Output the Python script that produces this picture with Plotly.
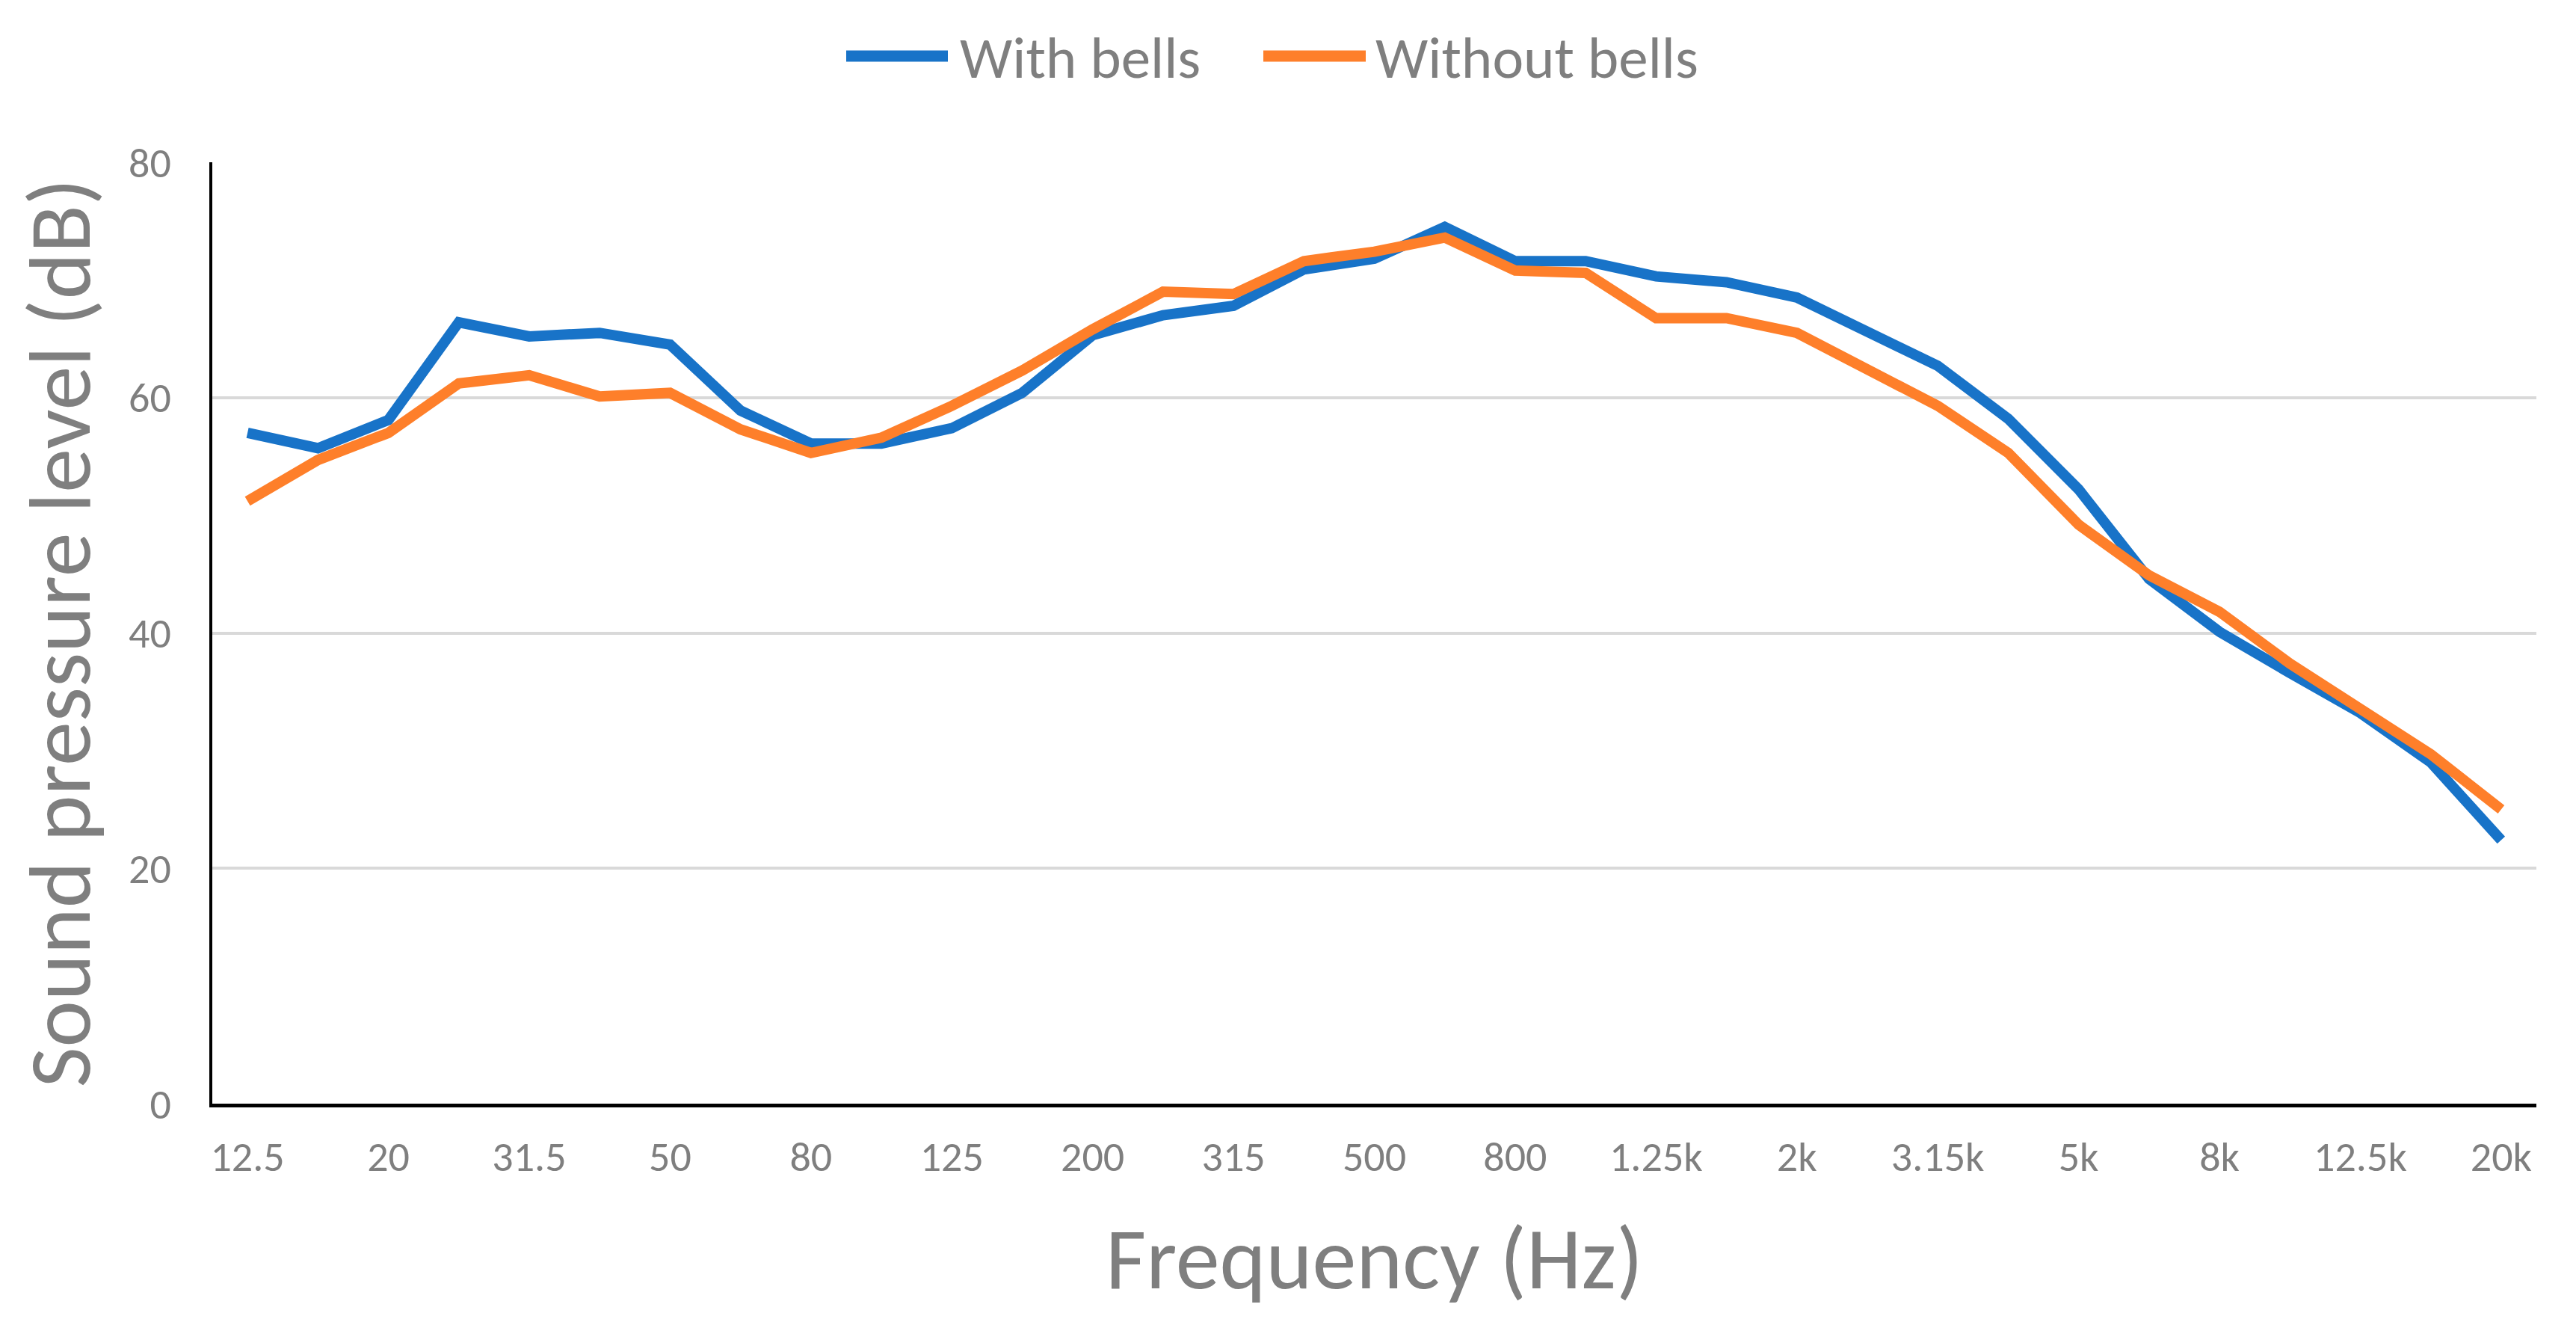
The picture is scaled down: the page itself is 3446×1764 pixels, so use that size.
import plotly.graph_objects as go

categories = ["12.5", "16", "20", "25", "31.5", "40", "50", "63", "80", "100",
              "125", "160", "200", "250", "315", "400", "500", "630", "800", "1k",
              "1.25k", "1.6k", "2k", "2.5k", "3.15k", "4k", "5k", "6.3k", "8k", "10k",
              "12.5k", "16k", "20k"]

with_bells = [57.0, 55.7, 58.1, 66.4, 65.2, 65.5, 64.5, 58.9, 56.1, 56.1,
              57.4, 60.4, 65.3, 67.0, 67.8, 70.9, 71.8, 74.5, 71.6, 71.6,
              70.3, 69.8, 68.5, 65.7, 62.7, 58.2, 52.2, 44.6, 40.1, 36.6,
              33.2, 29.0, 22.4]

without_bells = [51.2, 54.7, 57.0, 61.2, 61.9, 60.1, 60.4, 57.3, 55.3, 56.6,
                 59.3, 62.3, 65.8, 69.0, 68.8, 71.6, 72.4, 73.6, 70.8, 70.6,
                 66.75, 66.75, 65.5, 62.4, 59.3, 55.3, 49.2, 44.9, 41.8, 37.4,
                 33.5, 29.7, 25.0]

series_names = ["With bells", "Without bells"]
series_colors = ["#1873C8", "#FE7F2A"]

tick_labels = categories[::2]
y_ticks = [0, 20, 40, 60, 80]

FONT = "Carlito, Lato, sans-serif"
GRAY = "#7f7f7f"

# page body has an 8px default margin, so the figure is sized to fit inside the window
W, H = 3430, 1748
ML, MR, MT, MB = 276, 45, 209, 280
PW, PH = W - ML - MR, H - MT - MB


def px_x(x):
    return (x - 8 - ML) / PW


def px_y(y):
    return 1 - (y - 8 - MT) / PH


fig = go.Figure()
for name, vals, col in zip(series_names, [with_bells, without_bells], series_colors):
    fig.add_trace(go.Scatter(x=categories, y=vals, mode="lines", name=name,
                             line=dict(color=col, width=14), showlegend=False))

# legend drawn as swatches + labels (matching the long swatches of the reference)
legend_swatches = [(1132, 1268), (1690, 1827)]
legend_text_x = [1282, 1838]
legend_y = 75
shapes = []
annotations = []
for (x0, x1), tx, name, col in zip(legend_swatches, legend_text_x, series_names, series_colors):
    shapes.append(dict(type="line", xref="paper", yref="paper",
                       x0=px_x(x0), x1=px_x(x1), y0=px_y(legend_y), y1=px_y(legend_y),
                       line=dict(color=col, width=15)))
    annotations.append(dict(text=name, xref="paper", yref="paper", x=px_x(tx), y=px_y(legend_y + 2),
                            xanchor="left", yanchor="middle", showarrow=False,
                            font=dict(size=79, color=GRAY, family=FONT)))

fig.update_layout(
    width=W, height=H,
    margin=dict(l=ML, r=MR, t=MT, b=MB),
    paper_bgcolor="white", plot_bgcolor="white",
    font=dict(family=FONT, color=GRAY),
    showlegend=False,
    shapes=shapes,
    annotations=annotations,
    xaxis=dict(type="category", categoryorder="array", categoryarray=categories,
               range=[-0.5, len(categories) - 0.5],
               tickmode="array", tickvals=tick_labels, ticktext=tick_labels,
               showgrid=False, showline=True, linecolor="black", linewidth=5,
               ticks="", ticklabelstandoff=18,
               tickfont=dict(size=56, color=GRAY, family=FONT),
               title=dict(text="Frequency (Hz)", font=dict(size=118, color=GRAY, family=FONT),
                          standoff=62),
               zeroline=False),
    yaxis=dict(range=[0, 80], tickmode="array", tickvals=y_ticks,
               showgrid=True, gridcolor="#d9d9d9", gridwidth=4,
               showline=True, linecolor="black", linewidth=4,
               ticks="", ticklabelstandoff=40,
               tickfont=dict(size=56, color=GRAY, family=FONT),
               title=dict(text="Sound pressure level (dB)",
                          font=dict(size=118, color=GRAY, family=FONT), standoff=36),
               zeroline=False),
)

fig.write_html("out.html")
